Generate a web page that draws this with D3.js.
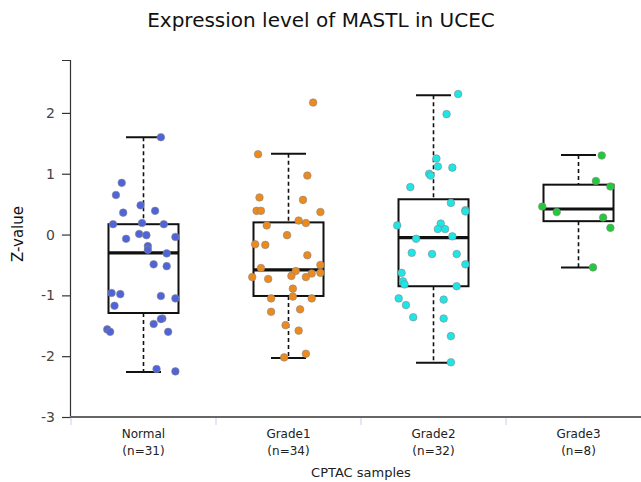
<!DOCTYPE html>
<html lang="en">
<head>
  <meta charset="UTF-8">
  <title>Expression level of MASTL in UCEC</title>
  <script src="https://d3js.org/d3.v7.min.js"></script>
  <style>
    body { margin: 0; background: #fff; font-family: "DejaVu Sans", sans-serif; }
    svg { display: block; }
  </style>
</head>
<body>
  <script>
    // groups and sample counts
    const groups = ["Normal", "Grade1", "Grade2", "Grade3"];
    const counts = [31, 34, 32, 8];
    const colors = ["#4f63da", "#ec8a1e", "#1ee6e6", "#22c93a"];

    // box stats: [lowWhisker, q1, median, q3, highWhisker]
    const boxStats = [
      [-2.26, -1.29, -0.30, 0.17, 1.60],
      [-2.03, -1.01, -0.58, 0.20, 1.33],
      [-2.11, -0.85, -0.05, 0.58, 2.29],
      [-0.54, 0.22, 0.42, 0.82, 1.31]
    ];

    // z-values of the samples
    const normalVals = [1.60, 0.85, 0.65, 0.48, 0.39, 0.36, 0.17, 0.19, 0.17, -0.07, 0.01,
      -0.01, -0.04, -0.19, -0.25, -0.31, -0.49, -0.52, -0.96, -0.98, -1.01, -1.05, -1.17,
      -1.38, -1.39, -1.47, -1.56, -1.60, -1.60, -2.21, -2.25];
    const grade1Vals = [2.17, 1.32, 0.97, 0.61, 0.57, 0.39, 0.39, 0.37, 0.23, 0.19, 0.15,
      -0.01, -0.16, -0.17, -0.34, -0.50, -0.55, -0.60, -0.64, -0.63, -0.70, -0.68, -0.70,
      -0.73, -0.89, -1.02, -1.05, -1.05, -1.27, -1.23, -1.49, -1.58, -1.96, -2.02];
    const grade2Vals = [2.31, 1.98, 1.25, 1.12, 1.10, 1.00, 0.97, 0.78, 0.52, 0.40, 0.38,
      0.15, 0.18, 0.09, 0.09, -0.03, -0.07, -0.30, -0.32, -0.32, -0.49, -0.63, -0.77,
      -0.82, -0.85, -1.05, -1.07, -1.16, -1.36, -1.38, -1.67, -2.10];
    const grade3Vals = [1.30, 0.88, 0.79, 0.46, 0.37, 0.28, 0.11, -0.54];

    // horizontal jitter, as a fraction of the band width
    const normalJit = [0.12, -0.15, -0.19, -0.02, 0.08, -0.14, -0.21, -0.01, 0.14, -0.12, -0.03,
      0.02, 0.22, 0.03, 0.03, 0.16, 0.07, 0.16, -0.22, -0.16, 0.12, 0.22, -0.20,
      0.13, 0.12, 0.07, -0.25, -0.23, 0.17, 0.09, 0.22];
    const grade1Jit = [0.17, -0.21, 0.13, -0.20, 0.10, -0.22, -0.19, 0.22, 0.07, 0.12, -0.15,
      -0.01, -0.23, -0.16, 0.13, 0.22, -0.19, 0.05, 0.16, 0.22, -0.25, 0.02, 0.12,
      -0.14, 0.03, 0.03, -0.12, 0.16, -0.12, 0.08, -0.02, 0.07, 0.12, -0.03];
    const grade2Jit = [0.17, 0.09, 0.02, 0.03, 0.13, -0.03, -0.02, -0.16, 0.12, 0.22, 0.22,
      -0.25, 0.05, 0.03, 0.08, 0.13, -0.12, -0.15, -0.01, 0.16, 0.22, -0.22, -0.21,
      -0.20, 0.16, -0.24, 0.07, -0.19, -0.14, 0.07, 0.12, 0.12];
    const grade3Jit = [0.16, 0.12, 0.22, -0.25, -0.15, 0.17, 0.22, 0.10];

    const values = [normalVals, grade1Vals, grade2Vals, grade3Vals];
    const jitters = [normalJit, grade1Jit, grade2Jit, grade3Jit];
    const yTicks = [2, 1, 0, -1, -2, -3];

    const width = 641, height = 482;
    const svg = d3.select("body").append("svg")
      .attr("width", width)
      .attr("height", height);

    const x = d3.scaleBand().domain(groups).range([71, 651]);
    const y = d3.scaleLinear().domain([-3, 2.87]).range([417, 60]);
    const boxW = 70, capW = 35;

    // title
    svg.append("text")
      .attr("x", 321).attr("y", 27)
      .attr("text-anchor", "middle")
      .attr("font-size", 20)
      .attr("fill", "#111")
      .text("Expression level of MASTL in UCEC");

    // y axis
    const yAxis = svg.append("g")
      .attr("transform", "translate(70,0)")
      .call(d3.axisLeft(y).tickValues(yTicks).tickSize(8).tickPadding(7).tickFormat(d => String(d)));
    yAxis.select(".domain").attr("stroke", "#333").attr("stroke-width", 1.2);
    yAxis.selectAll(".tick line").attr("stroke", "#333").attr("stroke-width", 1.2);
    yAxis.selectAll(".tick text").attr("font-size", 14).attr("fill", "#444")
      .attr("font-family", "DejaVu Sans, sans-serif");

    svg.append("text")
      .attr("transform", "translate(23,234) rotate(-90)")
      .attr("text-anchor", "middle")
      .attr("font-size", 15)
      .attr("fill", "#111")
      .text("Z-value");

    // x axis line
    svg.append("line")
      .attr("x1", 70).attr("x2", width)
      .attr("y1", y(-3)).attr("y2", y(-3))
      .attr("stroke", "#666").attr("stroke-width", 2);

    // category boundary ticks
    const bounds = groups.map(g => x(g)).concat([x.range()[1]]);
    svg.selectAll(".btick")
      .data(bounds)
      .enter().append("line")
      .attr("class", "btick")
      .attr("x1", d => d).attr("x2", d => d)
      .attr("y1", y(-3) + 1).attr("y2", y(-3) + 8)
      .attr("stroke", "#c5d3ea").attr("stroke-width", 1);

    // category labels
    const labels = svg.selectAll(".clabel")
      .data(groups)
      .enter().append("text")
      .attr("class", "clabel")
      .attr("text-anchor", "middle")
      .attr("font-size", 12)
      .attr("fill", "#222");
    labels.append("tspan")
      .attr("x", d => x(d) + x.bandwidth() / 2)
      .attr("y", 438)
      .text(d => d);
    labels.append("tspan")
      .attr("x", d => x(d) + x.bandwidth() / 2)
      .attr("y", 455)
      .text((d, i) => `(n=${counts[i]})`);

    svg.append("text")
      .attr("x", 361).attr("y", 477)
      .attr("text-anchor", "middle")
      .attr("font-size", 13)
      .attr("fill", "#222")
      .text("CPTAC samples");

    // boxes
    groups.forEach((g, i) => {
      const cx = x(g) + x.bandwidth() / 2;
      const [lo, q1, med, q3, hi] = boxStats[i];
      const gg = svg.append("g");

      gg.append("line")
        .attr("x1", cx).attr("x2", cx)
        .attr("y1", y(hi)).attr("y2", y(q3))
        .attr("stroke", "#111").attr("stroke-width", 1.6)
        .attr("stroke-dasharray", "4,3");
      gg.append("line")
        .attr("x1", cx).attr("x2", cx)
        .attr("y1", y(q1)).attr("y2", y(lo))
        .attr("stroke", "#111").attr("stroke-width", 1.6)
        .attr("stroke-dasharray", "4,3");
      [lo, hi].forEach(v => {
        gg.append("line")
          .attr("x1", cx - capW / 2).attr("x2", cx + capW / 2)
          .attr("y1", y(v)).attr("y2", y(v))
          .attr("stroke", "#111").attr("stroke-width", 2);
      });
      gg.append("rect")
        .attr("x", cx - boxW / 2).attr("y", y(q3))
        .attr("width", boxW).attr("height", y(q1) - y(q3))
        .attr("fill", "none")
        .attr("stroke", "#111").attr("stroke-width", 2);
      gg.append("line")
        .attr("x1", cx - boxW / 2).attr("x2", cx + boxW / 2)
        .attr("y1", y(med)).attr("y2", y(med))
        .attr("stroke", "#111").attr("stroke-width", 3.2);

      // jittered points
      gg.selectAll("circle")
        .data(values[i].map((v, k) => ({ v, j: jitters[i][k] })))
        .enter().append("circle")
        .attr("cx", d => cx + d.j * x.bandwidth())
        .attr("cy", d => y(d.v))
        .attr("r", 3.8)
        .attr("fill", colors[i])
        .attr("stroke", "#888")
        .attr("stroke-width", 0.6);
    });
  </script>
</body>
</html>
